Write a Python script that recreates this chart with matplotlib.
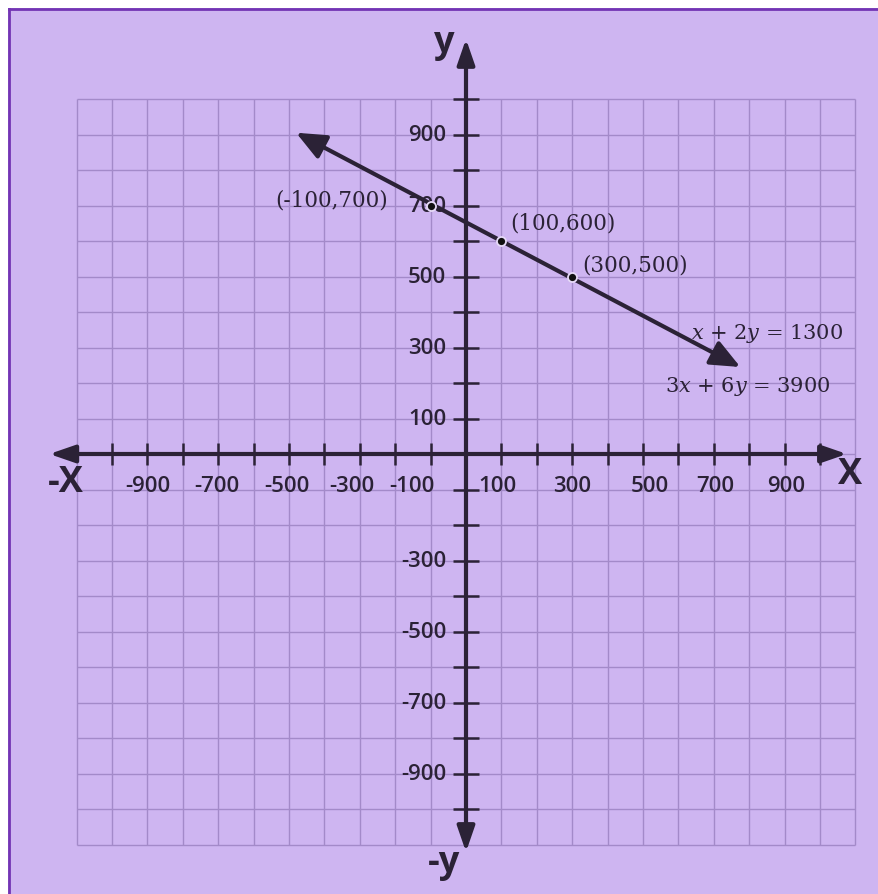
import matplotlib
matplotlib.use("Agg")
import matplotlib.pyplot as plt
from matplotlib.patches import Rectangle
from matplotlib.lines import Line2D
import numpy as np

# ---------------- data ----------------
grid_x = list(range(-1100, 1101, 100))
grid_y = list(range(-1100, 1001, 100))
xtick_vals = [v for v in range(-1000, 1001, 100) if v != 0]
ytick_vals = [v for v in range(-1000, 1001, 100) if v != 0]
xlabel_vals = [-900, -700, -500, -300, -100, 100, 300, 500, 700, 900]
xlabel_pos = [-900, -704, -505, -322, -152, 88, 299, 520, 703, 904]
ylabel_vals = [900, 700, 500, 300, 100, -300, -500, -700, -900]
xaxis_ends = [-1177, 1076]
yaxis_ends = [-1121, 1169]
line_x = [-480, 775]
line_y = [905, 245]
pts_x = [-100, 100, 300]
pts_y = [700, 600, 500]
pts_labels = ["(-100,700)", "(100,600)", "(300,500)"]
eq_labels = [r"$x$ + 2$y$ = 1300", r"3$x$ + 6$y$ = 3900"]

# ---------------- style ----------------
W, H = 879, 895
FILL = "#CEB5F1"
GRID = "#A38AC9"
BORDER = "#7334B4"
INK = "#2B2236"
px_x = 0.354  # pixels per data unit
px_y = 0.355
x0_px, y0_px = 466, 455

plt.rcParams["mathtext.fontset"] = "dejavuserif"

fig = plt.figure(figsize=(W / 100, H / 100), dpi=100)
fig.patch.set_facecolor("white")
fig.add_artist(Rectangle((8 / W, 0), 1, (H - 9) / H, transform=fig.transFigure,
                         facecolor=FILL, edgecolor="none", zorder=0))
fig.add_artist(Line2D([8.5 / W, 1], [(H - 9.5) / H] * 2, transform=fig.transFigure,
                      color=BORDER, lw=2.0, zorder=1))
fig.add_artist(Line2D([8.5 / W] * 2, [0, (H - 9.5) / H], transform=fig.transFigure,
                      color=BORDER, lw=2.0, zorder=1))

ax = fig.add_axes([0, 0, 1, 1])
ax.set_facecolor("none")
ax.set_xlim(-x0_px / px_x, (W - x0_px) / px_x)
ax.set_ylim((y0_px - H) / px_y, y0_px / px_y)
ax.axis("off")

# grid
ax.vlines(grid_x, min(grid_y), max(grid_y), color=GRID, lw=1.0, zorder=2)
ax.hlines(grid_y, min(grid_x), max(grid_x), color=GRID, lw=1.0, zorder=2)

# axes with arrows
axis_arrow = dict(arrowstyle="<|-|>,head_length=0.55,head_width=0.19", lw=3.0,
                  color=INK, mutation_scale=28, shrinkA=0, shrinkB=0)
ax.annotate("", xy=(xaxis_ends[1], 0), xytext=(xaxis_ends[0], 0),
            arrowprops=axis_arrow, zorder=5)
ax.annotate("", xy=(0, yaxis_ends[1]), xytext=(0, yaxis_ends[0]),
            arrowprops=axis_arrow, zorder=5)

# tick marks
ax.vlines(xtick_vals, -31, 31, color=INK, lw=1.8, zorder=5)
ax.hlines(ytick_vals, -37, 37, color=INK, lw=1.8, zorder=5)

tick_font = dict(family=["Open Sans", "DejaVu Sans"], fontsize=16, fontweight="semibold", color=INK)
for v, p in zip(xlabel_vals, xlabel_pos):
    ax.text(p, -88, str(v), ha="center", va="center", zorder=6, **tick_font)
for v in ylabel_vals:
    ax.text(-56, v, str(v), ha="right", va="center", zorder=6, **tick_font)

# axis letters
big = dict(family=["Open Sans", "DejaVu Sans"], fontsize=26, fontweight="bold", color=INK)
ax.text(-1130, -80, "-X", ha="center", va="center", zorder=6, **big)
ax.text(1085, -55, "X", ha="center", va="center", zorder=6, **big)
ax.text(-62, 1160, "y", ha="center", va="center", zorder=6, **big)
ax.text(-62, -1150, "-y", ha="center", va="center", zorder=6, **big)

# line with arrows
line_arrow = dict(arrowstyle="<|-|>,head_length=0.6,head_width=0.26", lw=3.0,
                  color=INK, mutation_scale=30, shrinkA=0, shrinkB=0)
ax.annotate("", xy=(line_x[1], line_y[1]), xytext=(line_x[0], line_y[0]),
            arrowprops=line_arrow, zorder=7)

ax.plot(pts_x, pts_y, "o", color="#111111", markersize=6.5,
        markeredgecolor="#E6DAF7", markeredgewidth=1.3, zorder=8, linestyle="none")

serif = dict(family=["DejaVu Serif"], fontsize=15.5, color=INK)
ax.text(-220, 718, pts_labels[0], ha="right", va="center", zorder=9, **serif)
ax.text(124, 653, pts_labels[1], ha="left", va="center", zorder=9, **serif)
ax.text(328, 535, pts_labels[2], ha="left", va="center", zorder=9, **serif)
eq = dict(family=["DejaVu Serif"], fontsize=15, color=INK)
ax.text(1065, 343, eq_labels[0], ha="right", va="center", zorder=9, **eq)
ax.text(1030, 192, eq_labels[1], ha="right", va="center", zorder=9, **eq)

fig.savefig("out.png", dpi=100)
